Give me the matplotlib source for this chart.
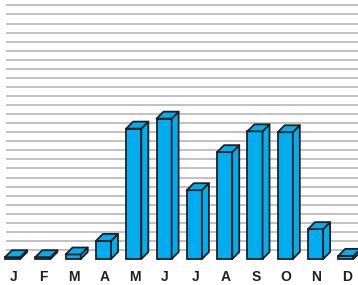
import matplotlib.pyplot as plt
from matplotlib.patches import Polygon

months = ["J", "F", "M", "A", "M", "J", "J", "A", "S", "O", "N", "D"]
values = [0.2, 0.2, 0.5, 2.0, 14.4, 15.5, 7.6, 11.8, 14.1, 14.0, 3.3, 0.35]
grid_levels = list(range(1, 29))

bar_color = "#00aeef"
edge_color = "#231f20"
bar_w = 0.5
dx, dy = 0.23, 0.77  # 3d depth offset in data units

fig = plt.figure(figsize=(3.58, 2.85), dpi=100)
ax = fig.add_axes([0, 0, 1, 1])
ax.set_xlim(-0.165, 11.65)
ax.set_ylim(-2.87, 28.6)
ax.axis("off")

# horizontal rules behind the bars
ax.hlines(grid_levels, 0.03, 11.65, colors="#b0b0b0", linewidth=1.1, zorder=1)

for i, v in enumerate(values):
    x0, x1 = i, i + bar_w
    ax.bar(x0, v, width=bar_w, align="edge", color=bar_color,
           edgecolor=edge_color, linewidth=1.3, zorder=3)
    side = [(x1, 0), (x1 + dx, dy), (x1 + dx, v + dy), (x1, v)]
    top = [(x0, v), (x1, v), (x1 + dx, v + dy), (x0 + dx, v + dy)]
    for pts in (side, top):
        ax.add_patch(Polygon(pts, closed=True, facecolor=bar_color,
                             edgecolor=edge_color, linewidth=1.3,
                             joinstyle="round", zorder=3))
    ax.text(i + bar_w / 2 + 0.03, -1.98, months[i], ha="center", va="center",
            fontsize=10, fontweight="bold", family="Liberation Sans",
            color="#231f20")

fig.savefig("out.png", dpi=100)
